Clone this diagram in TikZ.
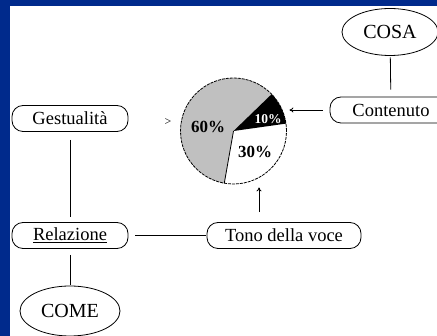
\documentclass[tikz,border=0pt]{standalone}
\usepackage{fontspec}
\setmainfont{Liberation Serif}
\usetikzlibrary{shapes.geometric,arrows.meta}
\definecolor{slideblue}{RGB}{0,42,140}
\definecolor{piegray}{RGB}{192,192,192}
\begin{document}
\begin{tikzpicture}[x=1pt, y=-1pt, line width=0.8pt,
    every node/.style={font=\fontsize{18.5}{21}\selectfont},
    pill/.style={draw, rounded corners=11pt, minimum height=26pt, inner sep=0pt},
    oval/.style={draw, ellipse, inner sep=0pt, font=\fontsize{20}{22}\selectfont},
    arr/.style={-{To[length=4pt,width=5pt]}},
    pct/.style={font=\fontsize{17}{19}\selectfont\bfseries}]
    % Draw the slide background
    \useasboundingbox (0,0) rectangle (437,336);
    \fill[slideblue] (0,0) rectangle (437,336);
    \fill[white] (10,6) rectangle (437,336);
    \clip (10,6) rectangle (437,336);

    % Draw the boxes
    \node[oval, minimum width=96pt, minimum height=47pt] (cosa) at (390,32) {COSA};
    \node[pill, minimum width=122pt] (contenuto) at (391,110) {Contenuto};
    \node[pill, minimum width=116pt] (gest) at (70,118.5) {Gestualità};
    \node[pill, minimum width=116pt] (rel) at (70,235.5) {\underline{Relazione}};
    \node[pill, minimum width=154pt] (tono) at (284,235.5) {Tono della voce};
    \node[oval, minimum width=100pt, minimum height=50pt] (come) at (70,311) {COME};

    % Draw the pie
    \begin{scope}[shift={(233.5,131)}, yscale=-1]
      \fill[piegray] (0,0) -- (44:53) arc[start angle=44, end angle=260, radius=53] -- cycle;
      \fill[black] (0,0) -- (8:53) arc[start angle=8, end angle=44, radius=53] -- cycle;
      \draw (0,0) -- (260:53);
    \end{scope}
    \node[circle, draw, dash pattern=on 3pt off 1pt, minimum size=106pt, inner sep=0pt] (pie) at (233.5,131) {};
    \node[pct] (p60) at (208,127) {60\%};
    \node[pct, white, font=\fontsize{13.5}{15}\selectfont\bfseries] (p10) at (268,119) {10\%};
    \node[pct] (p30) at (255,152) {30\%};
    \node[font=\fontsize{12}{14}\selectfont] (gt) at (168,122) {>};

    % Draw the connectors
    \draw[shorten <=1.5pt, shorten >=7pt] (cosa) -- (contenuto);
    \draw[shorten <=8pt, shorten >=5pt] (gest) -- (rel);
    \draw[shorten <=7pt, shorten >=1pt] (rel) -- (tono);
    \draw[shorten <=6pt, shorten >=1pt] (rel) -- (come);
    \draw[arr, shorten <=7pt, shorten >=2.5pt] (contenuto.west) -- (contenuto.west -| pie.east);
    \draw[arr, shorten <=10pt, shorten >=3pt] ([xshift=-25pt]tono.north) -- ([xshift=-25pt]tono.north |- pie.south);
\end{tikzpicture}
\end{document}
